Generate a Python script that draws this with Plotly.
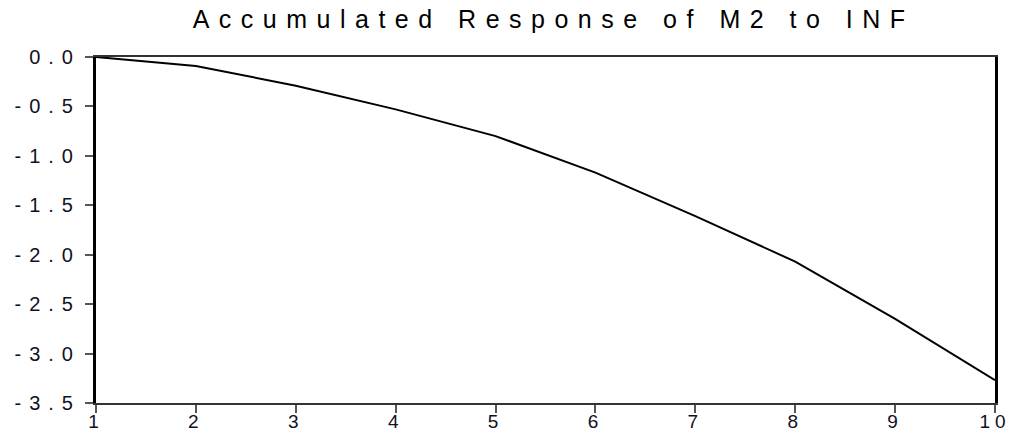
import plotly.graph_objects as go

periods = [1, 2, 3, 4, 5, 6, 7, 8, 9, 10]
response = [0.0, -0.09, -0.29, -0.53, -0.80, -1.17, -1.61, -2.07, -2.65, -3.27]
y_ticks = [0.0, -0.5, -1.0, -1.5, -2.0, -2.5, -3.0, -3.5]
y_tick_labels = ["0.0", "-0.5", "-1.0", "-1.5", "-2.0", "-2.5", "-3.0", "-3.5"]
title_text = "Accumulated Response of M2 to INF"

fig = go.Figure()
fig.add_trace(go.Scatter(x=periods, y=response, mode="lines",
                         line=dict(color="black", width=2), showlegend=False,
                         hoverinfo="skip"))

font_family = "Liberation Sans, Arial, sans-serif"
fig.update_layout(
    width=1014, height=432,
    margin=dict(l=96, r=19, t=57, b=29, autoexpand=False),
    paper_bgcolor="white", plot_bgcolor="white",
    title=dict(text=title_text, x=0.546, xanchor="center", y=0.955, yanchor="middle",
               font=dict(family=font_family, size=25, color="black")),
    font=dict(family=font_family, size=20, color="#111122"),
)
fig.update_xaxes(range=[1, 10], tickmode="array", tickvals=periods,
                 ticks="outside", ticklen=8, tickwidth=2, tickcolor="#555555",
                 ticklabelstandoff=-8,
                 showgrid=False, zeroline=False, automargin=False,
                 showline=True, mirror=True, linecolor="#333333", linewidth=2,
                 tickfont=dict(size=19))
fig.update_yaxes(range=[-3.5, 0.0], tickmode="array", tickvals=y_ticks,
                 ticktext=y_tick_labels,
                 ticks="outside", ticklen=8, tickwidth=2, tickcolor="#555555",
                 showgrid=False, zeroline=False, automargin=False,
                 showline=True, mirror=True, linecolor="black", linewidth=3,
                 tickfont=dict(size=20))

post = """
document.body.style.margin = '0';
document.body.style.overflow = 'hidden';
var gd = document.getElementById('{plot_id}');
gd.querySelectorAll('.gtitle').forEach(function(t){ t.style.letterSpacing = '9.5px'; });
gd.querySelectorAll('.ytick text').forEach(function(t){ t.style.letterSpacing = '8px'; });
gd.querySelectorAll('.xtick text').forEach(function(t){ t.style.letterSpacing = '5px'; });
"""

fig.write_html("out.html", post_script=post, config={"displayModeBar": False})
